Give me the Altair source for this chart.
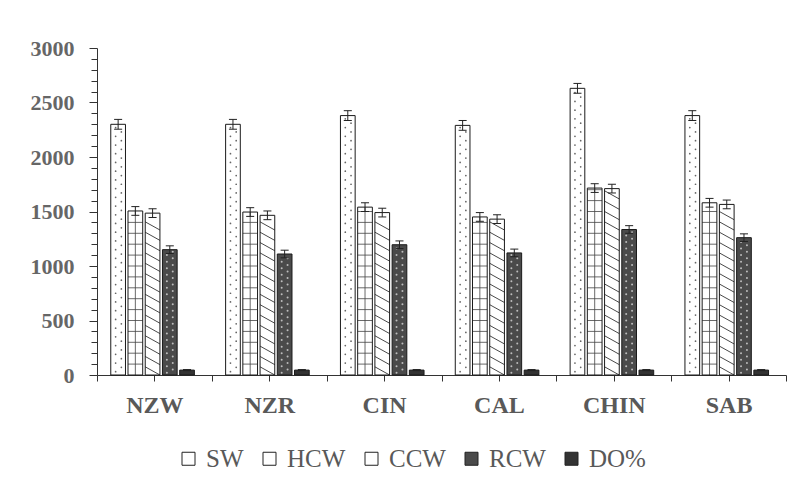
import altair as alt
import pandas as pd

groups = ["NZW", "NZR", "CIN", "CAL", "CHIN", "SAB"]
series_names = ["SW", "HCW", "CCW", "RCW", "DO%"]

sw = [2300, 2300, 2380, 2290, 2630, 2380]
hcw = [1505, 1495, 1540, 1450, 1715, 1580]
ccw = [1485, 1465, 1490, 1430, 1710, 1565]
rcw = [1150, 1110, 1195, 1120, 1335, 1260]
do_pct = [45, 45, 45, 45, 45, 45]

sw_err = [45, 45, 45, 45, 45, 45]
hcw_err = [40, 40, 40, 40, 40, 40]
ccw_err = [40, 40, 40, 40, 40, 40]
rcw_err = [35, 35, 35, 35, 35, 35]
do_err = [5, 5, 5, 5, 5, 5]

values = {"SW": sw, "HCW": hcw, "CCW": ccw, "RCW": rcw, "DO%": do_pct}
errs = {"SW": sw_err, "HCW": hcw_err, "CCW": ccw_err, "RCW": rcw_err, "DO%": do_err}

rows = []
for gi, g in enumerate(groups):
    for si, s in enumerate(series_names):
        rows.append({"group": g, "gi": gi, "series": s, "si": si,
                     "value": values[s][gi], "err": errs[s][gi]})
df = pd.DataFrame(rows)

FONT = "Liberation Serif"
TXT = "#595959"

base = alt.Chart(df).transform_calculate(
    x0="datum.gi + 0.12 + datum.si * 0.15",
    x1="datum.gi + 0.12 + datum.si * 0.15 + 0.128",
    xc="datum.gi + 0.12 + datum.si * 0.15 + 0.064",
    lo="datum.value - datum.err",
    hi="datum.value + datum.err",
    zero="0",
)

xscale = alt.Scale(domain=[0, 6], nice=False, zero=False)
yscale = alt.Scale(domain=[0, 3000], nice=False)

names_js = "[" + ",".join("'" + g + "'" for g in groups) + "]"
xaxis = alt.Axis(
    title=None, values=[i * 0.5 for i in range(13)], grid=False,
    labelExpr="(datum.value % 1) == 0.5 ? " + names_js + "[floor(datum.value)] : ''",
    tickSize=6, tickColor="#333", domainColor="#333", labelFont=FONT,
    labelFontSize=24, labelFontWeight="bold", labelColor=TXT, labelPadding=12,
    labelFlush=False, labelOverlap=False, labelBound=False,
)
yaxis = alt.Axis(
    title=None, values=list(range(0, 3001, 100)), grid=False,
    labelExpr="datum.value % 500 == 0 ? datum.label : ''",
    tickSize={"condition": {"test": "datum.value % 500 === 0", "value": 8}, "value": 6},
    tickColor="#333", domainColor="#333", labelFont=FONT, labelFontSize=22,
    labelFontWeight="bold", labelColor="#666666", labelPadding=15,
    labelOverlap=False, format="d",
)


def X(f):
    return alt.X(f, scale=xscale, axis=xaxis)


def Y(f):
    return alt.Y(f, scale=yscale, axis=yaxis)


bars = base.mark_bar(strokeWidth=0).encode(
    x=X("x0:Q"),
    x2="x1:Q",
    y=Y("value:Q"),
    y2="zero:Q",
    fill=alt.Fill("series:N", scale=alt.Scale(domain=series_names,
                  range=["#ffffff", "#ffffff", "#ffffff", "#4a4a4a", "#333333"]),
                  legend=alt.Legend(
                      title=None, orient="none", direction="horizontal",
                      legendX=79, legendY=398, symbolType="square", symbolSize=169,
                      symbolStrokeColor="#222", symbolStrokeWidth=1,
                      labelFont=FONT, labelFontSize=25, labelColor=TXT,
                      columnPadding=13, labelOffset=5, padding=0)),
)

sw_dots = base.transform_filter("datum.series == 'SW'").transform_calculate(
    seq="sequence(30, datum.value - 15, 40)"
).transform_flatten(["seq"]).transform_calculate(
    px="datum.x0 + ((floor(datum.seq / 40) % 2) == 0 ? 0.33 : 0.72) * 0.128"
).mark_circle(size=3, color="#666", opacity=1).encode(
    x=X("px:Q"), y=Y("seq:Q"))

hcw_h = base.transform_filter("datum.series == 'HCW'").transform_calculate(
    seq="sequence(100, datum.value - 10, 100)"
).transform_flatten(["seq"]).mark_rule(color="#444", strokeWidth=0.8).encode(
    x=X("x0:Q"), x2="x1:Q", y=Y("seq:Q"))

hcw_v = base.transform_filter("datum.series == 'HCW'").mark_rule(
    color="#444", strokeWidth=0.8).encode(
    x=X("xc:Q"), y=Y("zero:Q"), y2="value:Q")

ccw_d = base.transform_filter("datum.series == 'CCW'").transform_calculate(
    seq="sequence(0, datum.value - 75, 95)"
).transform_flatten(["seq"]).transform_calculate(
    ytop="datum.seq + 75"
).mark_rule(color="#333", strokeWidth=0.9).encode(
    x=X("x0:Q"), x2="x1:Q", y=Y("ytop:Q"), y2="seq:Q")

rcw_dots = base.transform_filter("datum.series == 'RCW'").transform_calculate(
    seq="sequence(20, datum.value - 10, 30)"
).transform_flatten(["seq"]).transform_calculate(
    px="datum.x0 + ((floor(datum.seq / 30) % 2) == 0 ? 0.3 : 0.7) * 0.128"
).mark_circle(size=4, color="#bdbdbd", opacity=1).encode(
    x=X("px:Q"), y=Y("seq:Q"))

outline = base.mark_bar(fillOpacity=0, stroke="#1a1a1a", strokeWidth=1).encode(
    x=X("x0:Q"), x2="x1:Q", y=Y("value:Q"), y2="zero:Q")

err_rule = base.mark_rule(color="#222", strokeWidth=1).encode(
    x=X("xc:Q"), y=Y("lo:Q"), y2="hi:Q")

err_cap_hi = base.transform_calculate(
    ca="datum.xc - 0.035", cb="datum.xc + 0.035"
).mark_rule(color="#222", strokeWidth=1).encode(
    x=X("ca:Q"), x2="cb:Q", y=Y("hi:Q"))

err_cap_lo = base.transform_calculate(
    ca="datum.xc - 0.035", cb="datum.xc + 0.035"
).mark_rule(color="#222", strokeWidth=1).encode(
    x=X("ca:Q"), x2="cb:Q", y=Y("lo:Q"))

chart = alt.layer(
    bars, sw_dots, hcw_h, hcw_v, ccw_d, rcw_dots, outline,
    err_rule, err_cap_hi, err_cap_lo
).properties(
    width=689, height=327,
    autosize=alt.AutoSizeParams(type="none"),
    padding={"left": 89, "top": 40, "right": 11, "bottom": 115},
    background="white",
).configure_view(strokeWidth=0)

chart.save("out.html", embed_options={"renderer": "svg", "actions": False})
